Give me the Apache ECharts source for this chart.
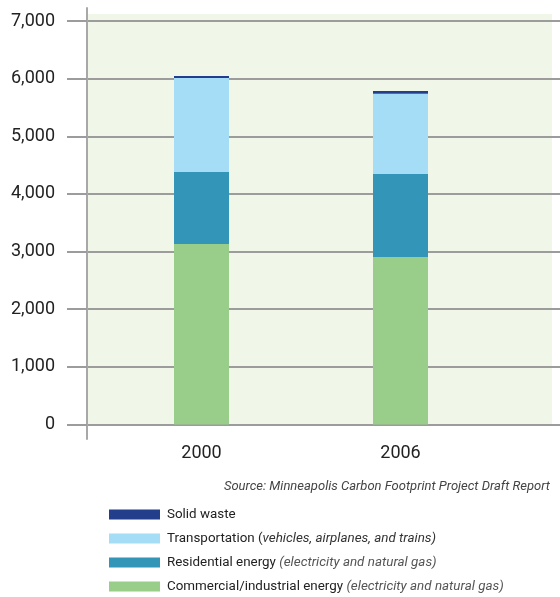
<!DOCTYPE html>
<html>
<head>
<meta charset="utf-8">
<script src="https://cdn.jsdelivr.net/npm/echarts@6/dist/echarts.min.js"></script>
<style>
  html, body { margin: 0; padding: 0; background: #ffffff; }
  #chart { width: 560px; height: 597px; }
</style>
</head>
<body>
<div id="chart"></div>
<script>
// Emissions by sector (thousand tons CO2e), stacked per year
const categories = ['2000', '2006'];
const commercial = [3130, 2905];
const residential = [1250, 1440];
const transportation = [1630, 1395];
const solidWaste = [35, 45];
const yTicks = [0, 1000, 2000, 3000, 4000, 5000, 6000, 7000];

const FONT = 'Roboto, "Liberation Sans", Arial, sans-serif';
const colors = {
  commercial: '#98ce8a',
  residential: '#3396b8',
  transportation: '#a5ddf6',
  solidWaste: '#233f8c'
};

const yMin = yTicks[0];
const yMax = yTicks[yTicks.length - 1];
const yStep = yTicks[1] - yTicks[0];

const chart = echarts.init(document.getElementById('chart'), null, { renderer: 'canvas' });

function stackSeries(name, data, color) {
  return {
    name: name,
    type: 'bar',
    stack: 'total',
    xAxisIndex: 2,
    yAxisIndex: 2,
    barWidth: 55,
    data: data,
    itemStyle: { color: color },
    emphasis: { disabled: true }
  };
}

const legendLabels = {
  'Solid waste': '{n|Solid waste}',
  'Transportation': '{n|Transportation (}{i|vehicles, airplanes, and trains)}',
  'Residential energy': '{n|Residential energy }{g|(electricity and natural gas)}',
  'Commercial/industrial energy': '{n|Commercial/industrial energy }{g|(electricity and natural gas)}'
};

const LEGEND_SIZE = 13.4;

chart.setOption({
  animation: false,
  title: {
    text: 'Source: Minneapolis Carbon Footprint Project Draft Report',
    right: 10,
    top: 480,
    padding: 0,
    textStyle: { fontFamily: FONT, fontSize: 13, fontStyle: 'italic', fontWeight: 'normal', color: '#444' }
  },
  legend: {
    orient: 'vertical',
    left: 109,
    top: 508,
    padding: 0,
    itemWidth: 51,
    itemHeight: 10,
    itemGap: 11,
    icon: 'rect',
    selectedMode: false,
    data: ['Solid waste', 'Transportation', 'Residential energy', 'Commercial/industrial energy'],
    formatter: name => legendLabels[name],
    textStyle: {
      fontFamily: FONT,
      fontSize: LEGEND_SIZE,
      color: '#222',
      padding: [0, 0, 0, 2],
      rich: {
        n: { fontFamily: FONT, fontSize: LEGEND_SIZE, color: '#222' },
        i: { fontFamily: FONT, fontSize: LEGEND_SIZE, fontStyle: 'italic', color: '#333' },
        g: { fontFamily: FONT, fontSize: LEGEND_SIZE, fontStyle: 'italic', color: '#555' }
      }
    }
  },
  grid: [
    // plot background
    { left: 88, right: 8, top: 14, bottom: 172, show: true, backgroundColor: '#f1f7e8', borderWidth: 0 },
    // gridlines and value labels
    { left: 87, right: 0, top: 21, bottom: 172.5 },
    // bars
    { left: 102, width: 398, top: 21, bottom: 172.5 },
    // vertical axis rule
    { left: 87, width: 10, top: 8, bottom: 158 }
  ],
  xAxis: [
    { gridIndex: 0, type: 'value', show: false },
    { gridIndex: 1, type: 'value', show: false },
    {
      gridIndex: 2,
      type: 'category',
      data: categories,
      axisLine: { show: false },
      axisTick: { show: false },
      axisLabel: { margin: 20, fontFamily: FONT, fontSize: 18, color: '#222' }
    },
    { gridIndex: 3, type: 'value', show: false }
  ],
  yAxis: [
    { gridIndex: 0, type: 'value', show: false },
    {
      gridIndex: 1,
      type: 'value',
      min: yMin,
      max: yMax,
      interval: yStep,
      axisLine: { show: false },
      axisTick: { show: true, length: 20, lineStyle: { color: '#9c9c9c', width: 2 } },
      axisLabel: {
        margin: 32,
        fontFamily: FONT,
        fontSize: 18,
        color: '#222',
        formatter: v => v.toLocaleString('en-US')
      },
      splitLine: { show: true, lineStyle: { color: '#9c9c9c', width: 2 } }
    },
    { gridIndex: 2, type: 'value', min: yMin, max: yMax, interval: yStep, show: false },
    {
      gridIndex: 3,
      type: 'value',
      min: 0,
      max: 1,
      axisLine: { show: true, lineStyle: { color: '#a8a8a8', width: 2 } },
      axisTick: { show: false },
      axisLabel: { show: false },
      splitLine: { show: false }
    }
  ],
  series: [
    stackSeries('Commercial/industrial energy', commercial, colors.commercial),
    stackSeries('Residential energy', residential, colors.residential),
    stackSeries('Transportation', transportation, colors.transportation),
    stackSeries('Solid waste', solidWaste, colors.solidWaste)
  ]
});
</script>
</body>
</html>
